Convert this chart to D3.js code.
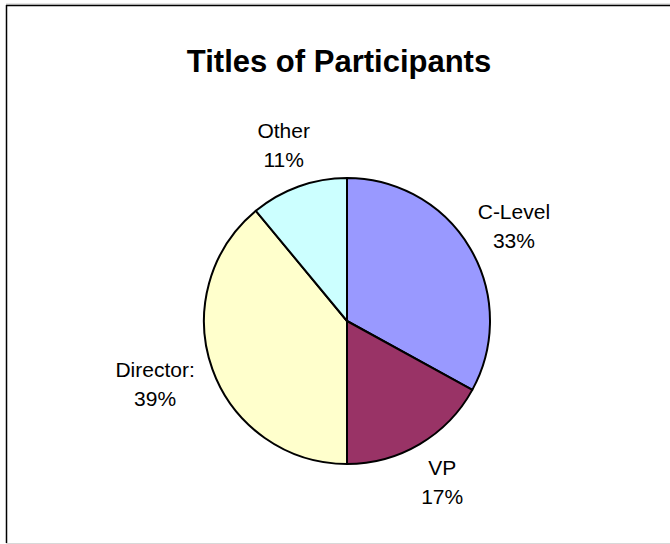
<!DOCTYPE html>
<html>
<head>
<meta charset="utf-8">
<script src="https://cdn.jsdelivr.net/npm/d3@7"></script>
<style>
  html, body { margin: 0; padding: 0; background: #fff; }
  svg { display: block; }
  text { font-family: "Liberation Sans", Arial, sans-serif; fill: #000; }
</style>
</head>
<body>
<svg id="chart" width="670" height="544"></svg>
<script>
// Survey breakdown by job title
const categories = ["C-Level", "VP", "Director:", "Other"];
const shares = [33, 17, 39, 11];
const fills = ["#9999FF", "#993366", "#FFFFCC", "#CCFFFF"];
const chartTitle = "Titles of Participants";

const W = 670, H = 544;
const svg = d3.select("#chart");

// frame
svg.append("line").attr("x1", 6).attr("x2", W).attr("y1", 4).attr("y2", 4)
  .attr("stroke", "#c8c8c8").attr("stroke-width", 1);
svg.append("line").attr("x1", 6).attr("x2", W).attr("y1", 543.5).attr("y2", 543.5)
  .attr("stroke", "#d8d8d8").attr("stroke-width", 1);
svg.append("line").attr("x1", 6).attr("x2", W).attr("y1", 5.5).attr("y2", 5.5)
  .attr("stroke", "#000").attr("stroke-width", 1.5);
svg.append("line").attr("x1", 6.5).attr("x2", 6.5).attr("y1", 5).attr("y2", 543)
  .attr("stroke", "#000").attr("stroke-width", 1.5);

svg.append("text")
  .attr("x", 339).attr("y", 72)
  .attr("text-anchor", "middle")
  .style("font-size", "31px").style("font-weight", "bold")
  .text(chartTitle);

const cx = 347, cy = 321, R = 143;
const data = categories.map((c, i) => ({ name: c, value: shares[i], fill: fills[i] }));
const pie = d3.pie().value(d => d.value).sort(null);
const arc = d3.arc().innerRadius(0).outerRadius(R);
const labelArc = d3.arc().innerRadius(187).outerRadius(187);
const arcs = pie(data);

const g = svg.append("g").attr("transform", `translate(${cx},${cy})`);
g.selectAll("path.slice")
  .data(arcs)
  .join("path")
  .attr("class", "slice")
  .attr("d", arc)
  .attr("fill", d => d.data.fill)
  .attr("stroke", "#000")
  .attr("stroke-width", 2)
  .attr("stroke-linejoin", "round");

// labels: centred on a ring outside the pie, then nudged sideways
// so the text keeps a clear margin from the rim
const fs = 21, lh = 29, margin = 24;
const labels = g.selectAll("g.lbl").data(arcs).join("g").attr("class", "lbl");
labels.each(function(d) {
  let [bx, by] = labelArc.centroid(d);
  const gl = d3.select(this);
  const t = gl.append("text").attr("text-anchor", "middle").style("font-size", fs + "px");
  t.append("tspan").attr("x", 0).attr("dy", 0).text(d.data.name);
  t.append("tspan").attr("x", 0).attr("dy", lh).text(d3.format(".0f")(d.data.value) + "%");
  const bb = t.node().getBBox();
  const w = bb.width, h = bb.height;
  if (Math.abs(by) < R) {
    const rimX = Math.sqrt(R * R - by * by);
    if (bx < 0) {
      const clear = (-rimX) - (bx + w / 2);
      if (clear < margin) bx -= margin - clear;
    } else {
      const clear = (bx - w / 2) - rimX;
      if (clear < margin) bx += margin - clear;
    }
  }
  const offY = by - (bb.y + h / 2);
  gl.attr("transform", `translate(${bx},${offY})`);
});
</script>
</body>
</html>
